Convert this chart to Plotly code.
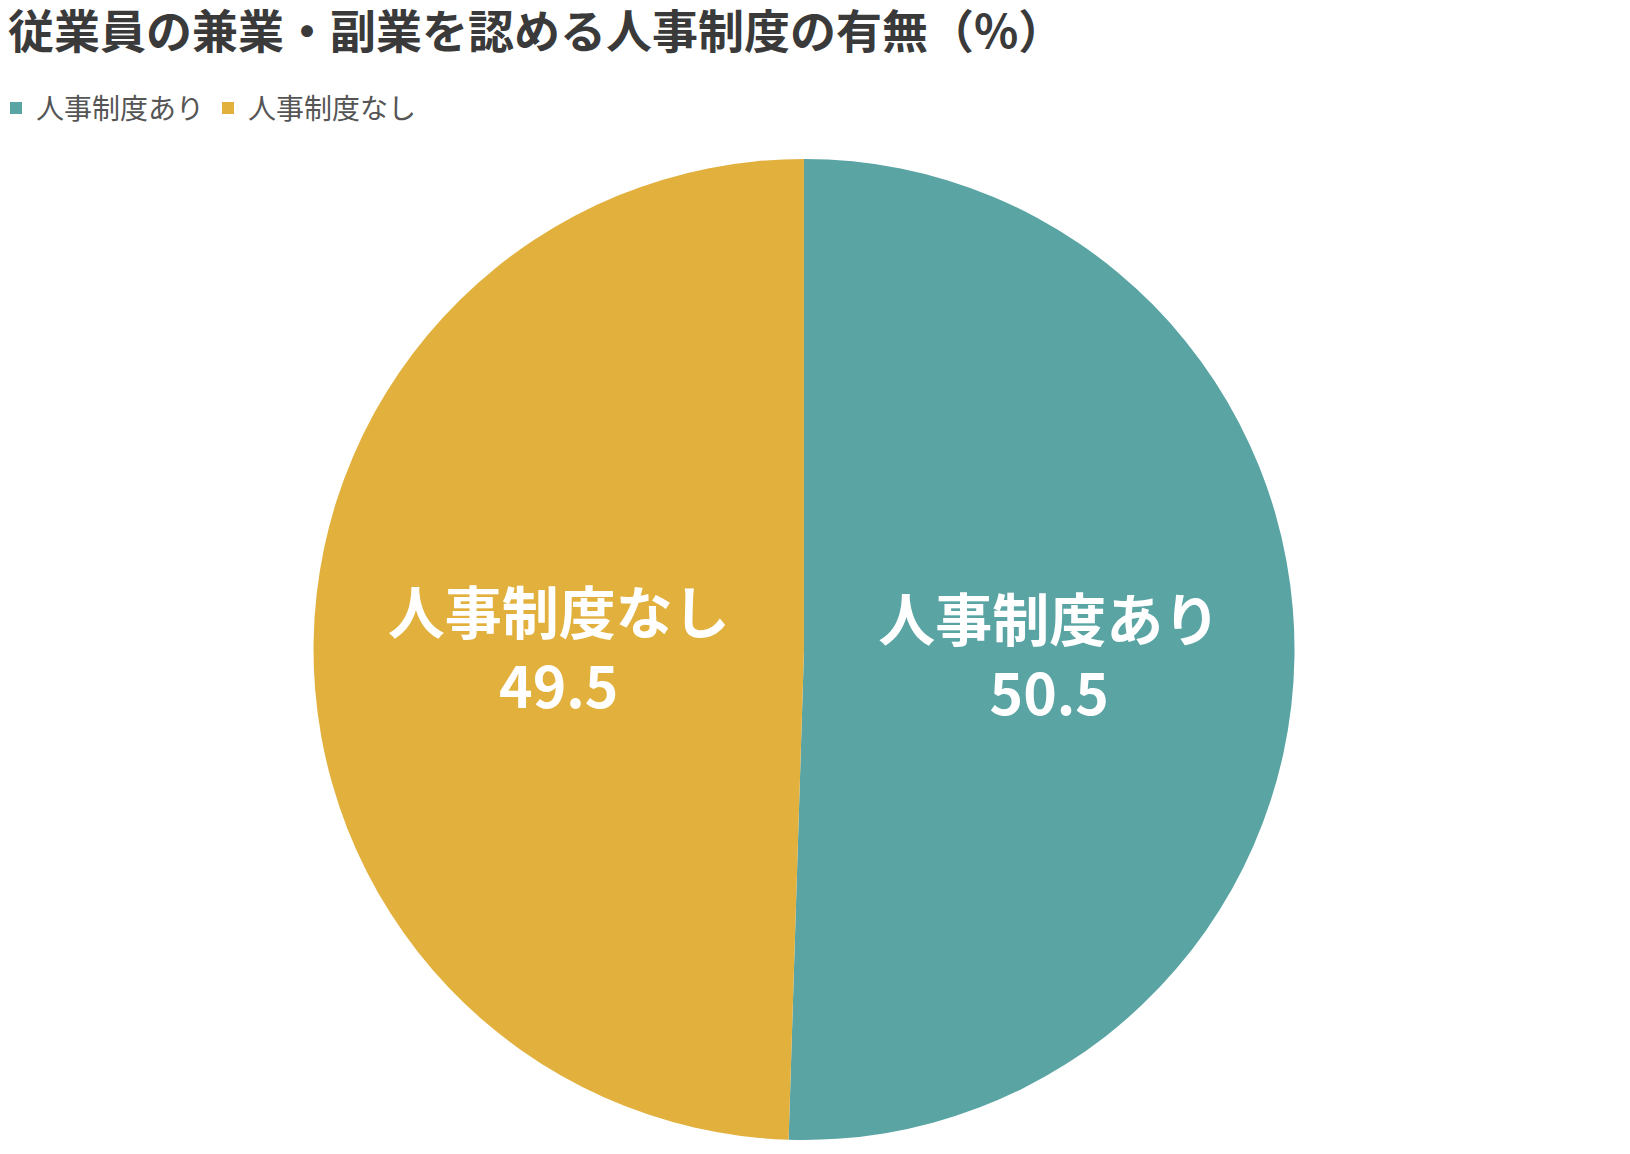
import plotly.graph_objects as go

# 人事制度の有無（%）
labels = ["人事制度あり", "人事制度なし"]
values = [50.5, 49.5]
colors = ["#5AA4A4", "#E2B03D"]

fig = go.Figure(go.Pie(
    labels=labels,
    values=values,
    sort=False,
    direction="clockwise",
    rotation=0,
    marker=dict(colors=colors, line=dict(width=0)),
    texttemplate="%{label}<br>%{value}",
    textposition="inside",
    insidetextorientation="horizontal",
    insidetextfont=dict(family="Noto Sans CJK JP", size=57, color="white", weight="bold"),
    hoverinfo="label+value",
    domain=dict(x=[0.1874, 0.7893], y=[0.0191, 0.8692]),
))

fig.update_layout(
    width=1630, height=1154,
    margin=dict(l=0, r=0, t=0, b=0),
    paper_bgcolor="white",
    plot_bgcolor="white",
    title=dict(
        text="<b>従業員の兼業・副業を認める人事制度の有無（%）</b>",
        x=0.0, xanchor="left",
        y=0.993, yanchor="top",
        font=dict(family="Noto Sans CJK JP", size=46, color="#3a3a3a"),
    ),
    legend=dict(
        orientation="h",
        x=0.0, xanchor="left",
        y=0.913, yanchor="middle",
        indentation=-12,
        entrywidth=179,
        font=dict(family="Noto Sans CJK JP", size=28, color="#555555"),
        itemwidth=30,
    ),
    showlegend=True,
)

fig.write_html("out.html")
